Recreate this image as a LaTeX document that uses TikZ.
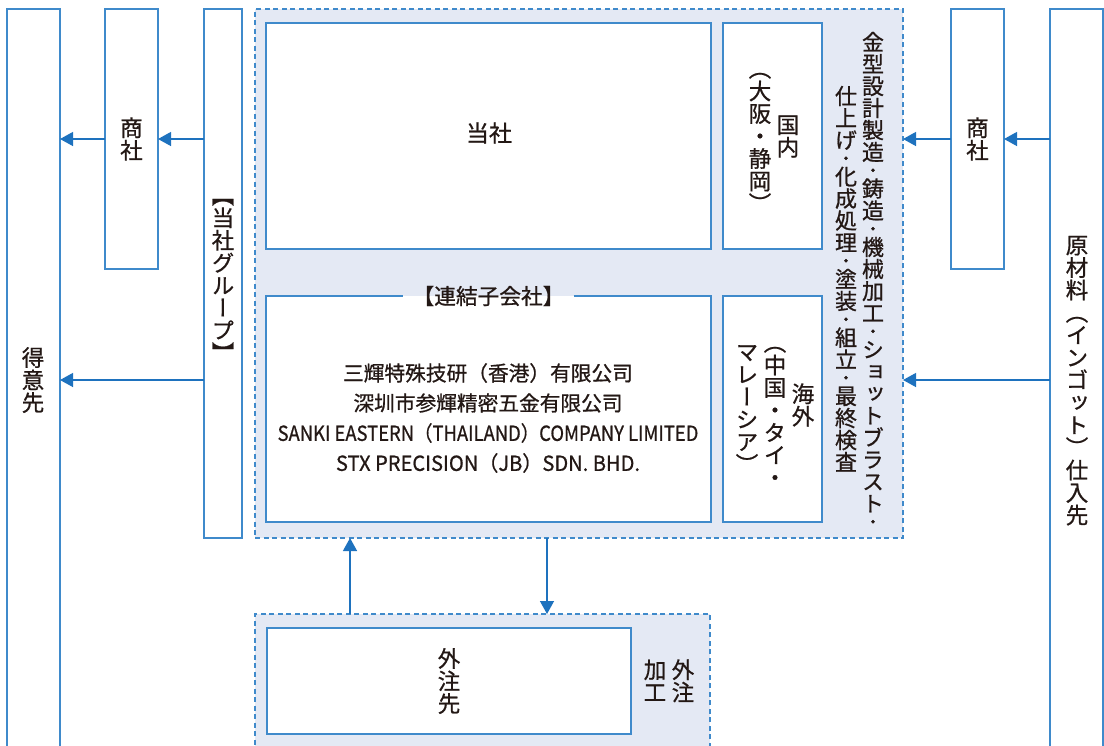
\documentclass[tikz,border=0pt]{standalone}
\usepackage{fontspec}
\setmainfont{Noto Sans CJK JP}[FakeBold=0.8]
\newfontfamily\vjp{Noto Sans CJK JP}[RawFeature=+vert,FakeBold=0.8]
\newfontfamily\vjpdot{Noto Sans CJK JP}[RawFeature=+vert,FakeBold=3.5]
\usetikzlibrary{arrows.meta}
\definecolor{bl}{HTML}{3F8ACB}
\definecolor{ar}{HTML}{1E72BE}
\definecolor{rg}{HTML}{E4E9F4}
\definecolor{tx}{HTML}{231815}
\newlength\vp \setlength\vp{22.5pt}
\def\vfs{22.5}
\newif\ifsmalldot
\newcommand\vcell[1]{\vbox to \vp{\vss\hbox to 26pt{\hss\raisebox{-0.38em}[0pt][0pt]{#1}\hss}\vss}}
\newcommand\dcell[1]{\vbox to 14.5pt{\vss\hbox to 26pt{\hss\vjpdot\fontsize{14.5}{14.5}\selectfont\raisebox{-0.38em}[0pt][0pt]{#1}\hss}\vss}}
\def\vitem#1{\ifsmalldot\if・#1\dcell{#1}\else\vcell{#1}\fi\else\vcell{#1}\fi}
\def\vlistA#1{\ifx\relax#1\else\vitem{#1}\expandafter\vlistA\fi}
\newcommand\vt[1]{\vbox{\offinterlineskip\vjp\fontsize{\vfs}{\vfs}\selectfont\vlistA#1\relax}}
\newcommand\vtlong[1]{{\smalldottrue\def\vfs{22}\setlength\vp{22pt}\vt{#1}}}
\begin{document}
\begin{tikzpicture}[x=1pt,y=-1pt,
 box/.style={draw=bl,line width=1.3pt,fill=white,inner sep=0pt,outer sep=0pt,anchor=north west},
 region/.style={draw=bl,dash pattern=on 5pt off 3.5pt,line width=1.3pt,fill=rg,inner sep=0pt,outer sep=0pt,anchor=north west},
 arr/.style={draw=ar,line width=1.3pt,-{Triangle[length=13pt,width=14pt]}},
 txt/.style={text=tx,inner sep=0pt,font=\fontsize{20.7}{30}\selectfont}]
\useasboundingbox (0,0) rectangle (1104,745);
% regions
\node[region,minimum width=648,minimum height=529] (grp) at (255,9) {};
\node[region,minimum width=455,minimum height=146] (gai) at (255,614) {};
% boxes
\node[box,minimum width=53,minimum height=760] (tokui) at (7,9) {};
\node[box,minimum width=53,minimum height=260] (sh1) at (105,9) {};
\node[box,minimum width=38,minimum height=529] (gp) at (204,9) {};
\node[box,minimum width=445,minimum height=226] (tosha) at (266,23) {};
\node[box,minimum width=99,minimum height=226] (kokunai) at (723,23) {};
\node[box,draw=none,minimum width=445,minimum height=226] (ren) at (266,296) {};
\node[box,minimum width=99,minimum height=226] (kaigai) at (723,296) {};
\node[box,minimum width=53,minimum height=260] (sh2) at (951,9) {};
\node[box,minimum width=53,minimum height=760] (gen) at (1050,9) {};
\node[box,minimum width=364,minimum height=106] (gaichu) at (267,628) {};
% consolidated label and border
\node[txt,inner xsep=9pt,font=\fontsize{21.7}{26}\selectfont] (renlab) at (ren.north) {【連結子会社】};
\draw[bl,line width=1.3pt] (renlab.east |- ren.north) -- (ren.north east) -- (ren.south east) -- (ren.south west) -- (ren.north west) -- (renlab.west |- ren.north);
% texts
\node[txt] (tsh1) at (131.5,139) {\vt{商社}};
\node[txt] (tgp) at (223,274) {\vt{【当社グループ】}};
\node[txt] (toktxt) at (33,380) {\vt{得意先}};
\node[txt,font=\fontsize{23}{26}\selectfont] (ttosha) at (489,133) {当社};
\node[txt] (tkn1) at (788,136) {\vt{国内}};
\node[txt] (tkn2) at (760,136) {\vt{（大阪・静岡）}};
\node[txt] (tkg1) at (803,405) {\vt{海外}};
\node[txt] (tkg2) at (775,410) {\vt{（中国・タイ・}};
\node[txt] (tkg3) at (747,408) {\vt{マレーシア）}};
\node[txt] (tpr1) at (873,280) {\vtlong{金型設計製造・鋳造・機械加工・ショットブラスト・}};
\node[txt] (tpr2) at (846,279) {\vtlong{仕上げ・化成処理・塗装・組立・最終検査}};
\node[txt] (tsh2) at (977.5,139) {\vt{商社}};
\node[txt] (gentxt) at (1077,380) {\vt{原材料（インゴット）仕入先}};
\node[txt] (tgc) at (449,681) {\vt{外注先}};
\node[txt] (tgk1) at (683,681) {\vt{外注}};
\node[txt] (tgk2) at (655,681) {\vt{加工}};
\node[txt,align=center] (tren) at (488,418) {三輝特殊技研（香港）有限公司\\深圳市参輝精密五金有限公司\\\scalebox{0.89}[1]{SANKI EASTERN（THAILAND）COMPANY LIMITED}\\\scalebox{0.97}[1]{STX PRECISION（JB）SDN. BHD.}};
% arrows
\draw[arr] (gp.west |- sh1.west) -- (sh1.east);
\draw[arr] (sh1.west) -- (tokui.east |- sh1.west);
\draw[arr] (gp.west |- toktxt) -- (tokui.east |- toktxt);
\draw[arr] (gen.west |- sh2.east) -- (sh2.east);
\draw[arr] (sh2.west) -- (grp.east |- sh2.west);
\draw[arr] (gen.west |- gentxt) -- (grp.east |- gentxt);
\coordinate (ux) at (350,0);
\coordinate (dx) at (547,0);
\draw[arr] (gai.north -| ux) -- (grp.south -| ux);
\draw[arr] (grp.south -| dx) -- (gai.north -| dx);
\end{tikzpicture}
\end{document}
